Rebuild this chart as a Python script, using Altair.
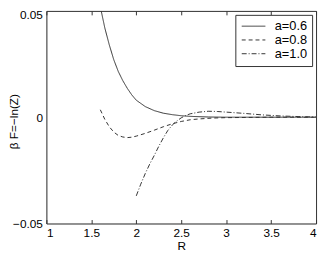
import altair as alt
import pandas as pd

# a = 0.6 (solid)
r06 = [1.61, 1.65, 1.70, 1.75, 1.80, 1.85, 1.90, 1.95, 2.00, 2.10, 2.20, 2.30, 2.40, 2.50, 2.60, 2.80, 3.00, 3.50, 4.00]
v06 = [0.050, 0.042, 0.034, 0.027, 0.0215, 0.0172, 0.0136, 0.0105, 0.0080, 0.0050, 0.0031, 0.0019, 0.0012, 0.0007, 0.0004, 0.0001, 0.0, 0.0, 0.0]

# a = 0.8 (dashed)
r08 = [1.60, 1.65, 1.70, 1.75, 1.80, 1.85, 1.90, 1.95, 2.00, 2.10, 2.20, 2.30, 2.40, 2.50, 2.60, 2.70, 2.85, 3.00, 3.50, 4.00]
v08 = [0.0035, -0.0010, -0.0045, -0.0070, -0.0086, -0.0093, -0.0096, -0.0094, -0.0089, -0.0076, -0.0061, -0.0045, -0.0031, -0.0020, -0.0012, -0.0008, -0.0004, -0.0002, 0.0, 0.0]

# a = 1.0 (dash-dot)
r10 = [2.00, 2.05, 2.10, 2.15, 2.20, 2.25, 2.30, 2.35, 2.40, 2.45, 2.50, 2.55, 2.60, 2.70, 2.80, 2.90, 3.00, 3.20, 3.40, 3.60, 3.80, 4.00]
v10 = [-0.0370, -0.0315, -0.0265, -0.0220, -0.0180, -0.0137, -0.0098, -0.0063, -0.0037, -0.0018, -0.0003, 0.0008, 0.0016, 0.0024, 0.0028, 0.0027, 0.0024, 0.0018, 0.0011, 0.0006, 0.0003, 0.0001]

labels = ["a=0.6", "a=0.8", "a=1.0"]
dashes = [[1, 0], [4, 3], [5, 2, 1, 2]]
x_ticks = [1, 1.5, 2, 2.5, 3, 3.5, 4]
y_ticks = [-0.05, 0, 0.05]

rows = []
for lab, rs, vs in zip(labels, [r06, r08, r10], [v06, v08, v10]):
    for r, v in zip(rs, vs):
        rows.append({"R": r, "F": v, "series": lab})
df = pd.DataFrame(rows)

FONT = "Liberation Sans"
LINE = "#333333"

xscale = alt.Scale(domain=[1, 4], nice=False, zero=False)
yscale = alt.Scale(domain=[-0.05, 0.05], nice=False, zero=False)

# layer 1: curves, bottom/left axes with labels, titles and domain lines
lines = alt.Chart(df).mark_line(strokeWidth=1, color=LINE, clip=True).encode(
    x=alt.X("R:Q", scale=xscale, axis=alt.Axis(
        orient="bottom", values=x_ticks, format="~g", title="R",
        ticks=False, domain=True, domainColor=LINE,
        labelPadding=4, titlePadding=2, labelFontSize=12, titleFontSize=12,
        labelFont=FONT, titleFont=FONT, labelColor="black", titleColor="black",
        titleFontWeight="normal", grid=False)),
    y=alt.Y("F:Q", scale=yscale, axis=alt.Axis(
        orient="left", values=y_ticks, format=".2~f", title="β F=−ln(Z)",
        ticks=False, domain=True, domainColor=LINE, labelPadding=4, labelFontSize=12,
        labelOffset={"condition": {"test": "datum.value > 0.04", "value": 4}, "value": 0},
        titleFontSize=12, labelFont=FONT, titleFont=FONT, labelColor="black",
        titleColor="black", titleFontWeight="normal", titleX=-26, titleY=112, grid=False)),
    strokeDash=alt.StrokeDash("series:N", scale=alt.Scale(domain=labels, range=dashes),
        legend=alt.Legend(orient="top-right", offset=4, title=None,
                          symbolType="M-1,0H3.8", symbolSize=100,
                          symbolStrokeWidth=1, symbolStrokeColor=LINE,
                          labelFontSize=13, labelFont=FONT, labelColor="black",
                          labelOffset=22, rowPadding=0, padding=5,
                          strokeColor=LINE, fillColor="white")),
    order=alt.Order("R:Q"),
)

# layer 2: top/right domain lines
frame = alt.Chart(df).mark_line(strokeOpacity=0).encode(
    x=alt.X("R:Q", scale=xscale, axis=alt.Axis(
        orient="top", values=x_ticks, labels=False, title=None, ticks=False,
        domain=True, domainColor=LINE, grid=False)),
    y=alt.Y("F:Q", scale=yscale, axis=alt.Axis(
        orient="right", values=y_ticks, labels=False, title=None, ticks=False,
        domain=True, domainColor=LINE, grid=False)),
    detail="series:N",
)

# layer 3: inward ticks on the bottom edge
ticks_bottom = alt.Chart(df).mark_line(strokeOpacity=0).encode(
    x=alt.X("R:Q", scale=xscale, axis=alt.Axis(
        orient="bottom", values=x_ticks, labels=False, title=None,
        offset=-4, tickSize=4, tickColor=LINE, domain=False, grid=False)),
    y=alt.Y("F:Q", scale=yscale, axis=alt.Axis(
        orient="left", values=y_ticks, labels=False, title=None, ticks=False,
        domain=False, grid=False)),
    detail="series:N",
)

# layer 4: inward ticks on the top edge
ticks_top = alt.Chart(df).mark_line(strokeOpacity=0).encode(
    x=alt.X("R:Q", scale=xscale, axis=alt.Axis(
        orient="top", values=x_ticks, labels=False, title=None,
        offset=-4, tickSize=4, tickColor=LINE, domain=False, grid=False)),
    y=alt.Y("F:Q", scale=yscale, axis=alt.Axis(
        orient="right", values=y_ticks, labels=False, title=None, ticks=False,
        domain=False, grid=False)),
    detail="series:N",
)

chart = alt.layer(lines, frame, ticks_bottom, ticks_top).resolve_axis(
    x="independent", y="independent"
).properties(
    width=274, height=216,
    autosize=alt.AutoSizeParams(type="none"),
    padding={"left": 39, "top": 1, "right": 3, "bottom": 28},
).configure_view(stroke=LINE, strokeWidth=1).configure(font=FONT)

chart.save("out.html", embed_options={"renderer": "svg", "actions": False})
